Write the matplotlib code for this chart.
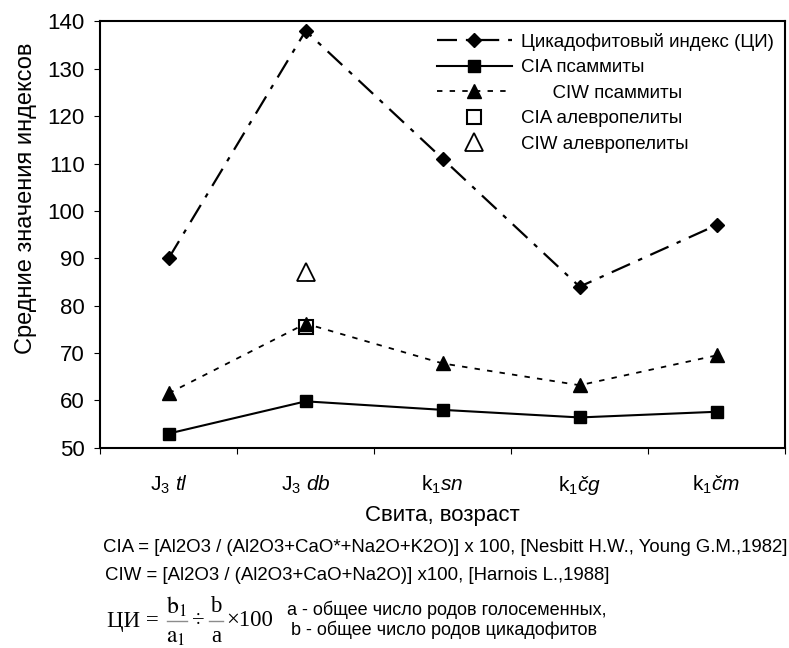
import matplotlib.pyplot as plt
import numpy as np
from matplotlib.lines import Line2D

plt.rcParams['font.family'] = ['Liberation Sans', 'DejaVu Sans']
plt.rcParams['mathtext.fontset'] = 'custom'
plt.rcParams['mathtext.rm'] = 'Liberation Sans'
plt.rcParams['mathtext.it'] = 'Liberation Sans:italic'

categories = [r'J$_3$ $\it{tl}$', r'J$_3$ $\it{db}$', r'k$_1$$\it{sn}$',
              r'k$_1$$\it{čg}$', r'k$_1$$\it{čm}$']
cycad_index = [90, 138, 111, 84, 97]
cia_psam = [53, 59.8, 58, 56.4, 57.6]
ciw_psam = [61.5, 76.2, 67.8, 63.2, 69.5]
cia_alev = [75.5]   # only J3 db
ciw_alev = [87]
alev_cat = [1]

x = np.arange(len(categories)) + 0.5

fig = plt.figure(figsize=(7.89, 6.48), dpi=100)
ax = fig.add_axes([0.127, 0.309, 0.868, 0.658])

ax.plot(x, cycad_index, color='k', linestyle=(0, (9, 4, 2, 4)), lw=1.6,
        marker='D', markersize=7.5, label='Цикадофитовый индекс (ЦИ)')
ax.plot(x, cia_psam, color='k', linestyle='-', lw=1.5,
        marker='s', markersize=9, label='CIA псаммиты')
ax.plot(x, ciw_psam, color='k', linestyle=(0, (3, 4)), lw=1.3,
        marker='^', markersize=9.5, label='      CIW псаммиты')
ax.plot(x[alev_cat], cia_alev, linestyle='none', marker='s', markersize=10,
        markerfacecolor='none', markeredgecolor='k', markeredgewidth=1.5,
        label='CIA алевропелиты')
ax.plot(x[alev_cat], ciw_alev, linestyle='none', marker='^', markersize=13,
        markerfacecolor='none', markeredgecolor='k', markeredgewidth=1.3,
        label='CIW алевропелиты')

ax.set_xlim(0, 5)
ax.set_ylim(50, 140)
ax.set_yticks(range(50, 141, 10))
ax.set_xticks(range(0, 6))
ax.set_xticklabels([])
ax.set_xticks(x, minor=True)
ax.set_xticklabels(categories, minor=True, fontsize=15)
ax.tick_params(axis='x', which='minor', length=0, pad=19)
ax.tick_params(axis='x', which='major', direction='out', length=4)
ax.tick_params(axis='y', direction='out', length=4, labelsize=16, pad=7)
for s in ax.spines.values():
    s.set_linewidth(1.5)

ax.set_ylabel('Средние значения индексов', fontsize=17)
ax.yaxis.set_label_coords(-0.093, 0.585)
ax.set_xlabel('Свита, возраст', fontsize=16, labelpad=6)

ax.legend(loc='upper right', frameon=False, fontsize=13.5, handlelength=4.0,
          labelspacing=0.45, borderaxespad=0.1, handletextpad=0.5,
          borderpad=0.5)

# formulas under the chart
fig.text(103 / 789, 1 - 547 / 648,
         'CIA = [Al2O3 / (Al2O3+CaO*+Na2O+K2O)] x 100, [Nesbitt H.W., Young G.M.,1982]',
         fontsize=13.4, va='center', ha='left')
fig.text(105 / 789, 1 - 575 / 648,
         'CIW = [Al2O3 / (Al2O3+CaO+Na2O)] x100, [Harnois L.,1988]',
         fontsize=13.4, va='center', ha='left')

serif = dict(family='Liberation Serif', fontsize=16.5, va='center')
fig.text(107 / 789, 1 - 621 / 648, 'ЦИ =', ha='left', **serif)
fig.text(176 / 789, 1 - 607 / 648, r'$\mathrm{b}_1$', math_fontfamily='stix',
         ha='center', fontsize=17, va='center')
fig.text(176 / 789, 1 - 637 / 648, r'$\mathrm{a}_1$', math_fontfamily='stix',
         ha='center', fontsize=17, va='center')
fig.text(198 / 789, 1 - 621 / 648, '÷', ha='center', **serif)
fig.text(216 / 789, 1 - 607 / 648, 'b', ha='center', **serif)
fig.text(216 / 789, 1 - 637 / 648, 'a', ha='center', **serif)
fig.text(226 / 789, 1 - 621 / 648, '×100', ha='left', **serif)
for x0, x1 in [(167, 187), (209, 223)]:
    fig.add_artist(Line2D([x0 / 789, x1 / 789], [1 - 621 / 648] * 2,
                          color='0.55', lw=1.0))

fig.text(287 / 789, 1 - 610 / 648, 'a - общее число родов голосеменных,', fontsize=13,
         va='center', ha='left')
fig.text(291 / 789, 1 - 630 / 648, 'b - общее число родов цикадофитов', fontsize=13,
         va='center', ha='left')

fig.savefig('out.png', dpi=100)
